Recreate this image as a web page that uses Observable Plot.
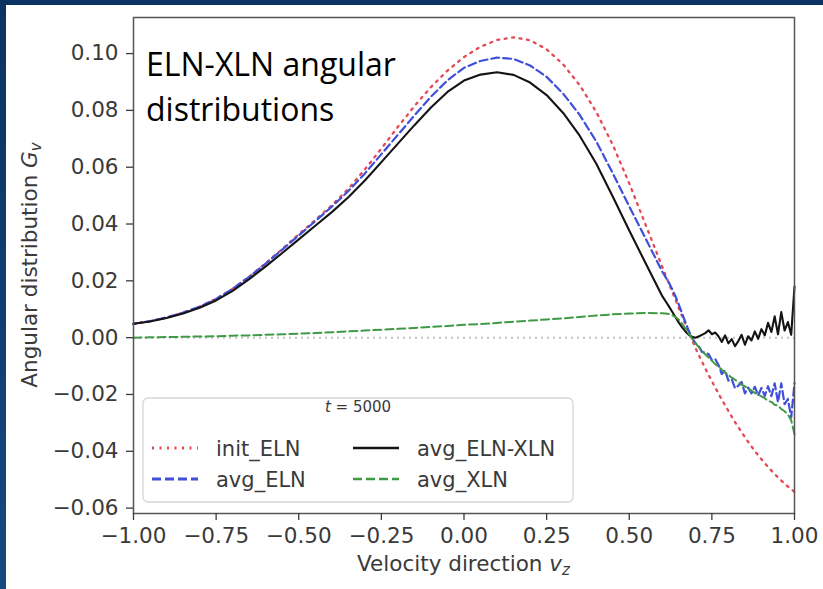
<!DOCTYPE html>
<html><head><meta charset="utf-8">
<script src="https://cdn.jsdelivr.net/npm/d3@7"></script>
<script src="https://cdn.jsdelivr.net/npm/@observablehq/plot@0.6"></script>
<style>
html,body{margin:0;padding:0;}
body{width:823px;height:589px;overflow:hidden;background:linear-gradient(#0c3262,#15497f);position:relative;}
#chart{position:absolute;left:6px;top:5px;width:817px;height:584px;background:#fff;}
</style></head><body><div id="chart"></div>
<script>
// velocity direction grid
const vz = [-1.00,-0.95,-0.90,-0.85,-0.80,-0.75,-0.70,-0.65,-0.60,-0.55,-0.50,-0.45,-0.40,-0.35,-0.30,-0.25,-0.20,-0.15,-0.10,-0.05,0.00,0.05,0.10,0.15,0.20,0.25,0.30,0.35,0.40,0.45,0.50,0.55,0.60,
0.61,0.62,0.63,0.64,0.65,0.66,0.67,0.68,0.69,0.70,0.71,0.72,0.73,0.74,0.75,0.76,0.77,0.78,0.79,0.80,0.81,0.82,0.83,0.84,0.85,0.86,0.87,0.88,0.89,0.90,0.91,0.92,0.93,0.94,0.95,0.96,0.97,0.98,0.99,1.00];

const initELN = [.0048,.0058,.0071,.0088,.0109,.0137,.0172,.0215,.0262,.0312,.0364,.0414,.0466,.0524,.0592,.0666,.0742,.0815,.0882,.0940,.0988,.1024,.1048,.1057,.1047,.1015,.0962,.0889,.0795,.0679,.0543,.0396,.0249,
.0220,.0191,.0162,.0133,.0104,.0075,.0047,.0019,-.0008,-.0035,-.0060,-.0084,-.0108,-.0131,-.0153,-.0175,-.0197,-.0218,-.0238,-.0258,-.0278,-.0297,-.0315,-.0333,-.0350,-.0367,-.0383,-.0399,-.0414,-.0428,-.0442,-.0455,-.0468,-.0480,-.0492,-.0503,-.0514,-.0524,-.0533,-.0543];

const avgELN = [.0049,.0058,.0071,.0088,.0109,.0136,.0172,.0214,.0261,.0310,.0360,.0410,.0461,.0516,.0578,.0646,.0714,.0782,.0848,.0906,.0950,.0974,.0986,.0981,.0958,.0918,.0859,.0784,.0691,.0579,.0462,.0348,.0232,
.0213,.0193,.0170,.0145,.0116,.0085,.0054,.0024,.0000,-.0019,-.0029,-.0050,-.0053,-.0058,-.0079,-.0075,-.0096,-.0128,-.0115,-.0151,-.0146,-.0178,-.0169,-.0156,-.0196,-.0176,-.0196,-.0173,-.0203,-.0177,-.0205,-.0171,-.0206,-.0161,-.0227,-.0161,-.0234,-.0216,-.0281,-.0160];

const avgELNXLN = [.0049,.0057,.0069,.0085,.0105,.0131,.0165,.0206,.0251,.0298,.0346,.0394,.0442,.0494,.0553,.0618,.0683,.0748,.0810,.0865,.0905,.0926,.0934,.0925,.0898,.0854,.0791,.0711,.0613,.0497,.0377,.0261,.0146,
.0128,.0110,.0091,.0072,.0053,.0036,.0022,.0010,.0003,.0000,.0004,.0010,.0016,.0026,.0012,.0018,.0005,-.0015,.0008,-.0020,-.0005,-.0030,-.0012,.0010,-.0025,.0005,-.0010,.0022,-.0004,.0030,.0008,.0052,.0020,.0075,.0012,.0090,.0025,.0055,.0010,.0180];

const avgXLN = [.0000,.0001,.0002,.0003,.0004,.0005,.0007,.0008,.0010,.0012,.0014,.0016,.0019,.0022,.0025,.0028,.0031,.0034,.0038,.0041,.0045,.0048,.0052,.0056,.0060,.0064,.0068,.0073,.0078,.0082,.0085,.0087,.0086,
.0085,.0083,.0079,.0073,.0063,.0049,.0032,.0014,-.0003,-.0019,-.0033,-.0046,-.0059,-.0070,-.0081,-.0093,-.0101,-.0113,-.0123,-.0131,-.0141,-.0148,-.0157,-.0166,-.0171,-.0181,-.0186,-.0195,-.0199,-.0207,-.0213,-.0223,-.0226,-.0236,-.0239,-.0251,-.0259,-.0271,-.0291,-.0340];

const xTicks = [-1.00,-0.75,-0.50,-0.25,0.00,0.25,0.50,0.75,1.00];
const yTicks = [-0.06,-0.04,-0.02,0.00,0.02,0.04,0.06,0.08,0.10];
const seriesNames = ["init_ELN","avg_ELN","avg_ELN-XLN","avg_XLN"];
const legendTitle = "5000";
const titleLines = ["ELN-XLN angular","distributions"];

const styles = {
  "init_ELN":    {stroke:"#e34a55", strokeWidth:2.3, dash:"2,5.5"},
  "avg_ELN":     {stroke:"#3f4fd8", strokeWidth:2.2, dash:"8,4"},
  "avg_ELN-XLN": {stroke:"#141414", strokeWidth:2.1, dash:null},
  "avg_XLN":     {stroke:"#3f9a45", strokeWidth:2.0, dash:"8,4"}
};

const rows = [];
[initELN, avgELN, avgELNXLN, avgXLN].forEach((arr,k)=>arr.forEach((g,i)=>rows.push({series:seriesNames[k], v:vz[i], g})));

const fmt = d3.format(".2f");
const W = 817, H = 584, mL = 127, mR = 29, mT = 12, mB = 76;

const lineMarks = seriesNames.map(s => Plot.line(rows, {
  filter: d => d.series === s, x: "v", y: "g",
  stroke: styles[s].stroke, strokeWidth: styles[s].strokeWidth,
  strokeDasharray: styles[s].dash, strokeLinejoin: "round"
}));

const chart = Plot.plot({
  width: W, height: H,
  marginLeft: mL, marginRight: mR, marginTop: mT, marginBottom: mB,
  style: {fontFamily: "DejaVu Sans", fontSize: "21.5px", color: "#3a3a3a", background: "#fff", overflow: "visible"},
  x: {domain: [-1, 1]},
  y: {domain: [-0.0619, 0.1127]},
  marks: [
    Plot.ruleY([0], {stroke: "#c4c4c4", strokeWidth: 2, strokeDasharray: "2,4"}),
    ...lineMarks,
    Plot.frame({stroke: "#555", strokeWidth: 1.5}),
    Plot.axisX(xTicks, {tickFormat: fmt, tickSize: 7, tickPadding: 7, label: null, strokeWidth: 1.3}),
    Plot.axisY(yTicks, {tickFormat: fmt, tickSize: 7, tickPadding: 8, label: null, strokeWidth: 1.3})
  ]
});
document.getElementById("chart").appendChild(chart);

const svg = d3.select(chart);
const fx0 = mL, fx1 = W - mR, fy0 = mT, fy1 = H - mB;

// axis labels
const xl = svg.append("text").attr("x", (fx0 + fx1) / 2).attr("y", 566)
  .attr("text-anchor", "middle").attr("fill", "#3a3a3a")
  .style("font-family", "DejaVu Sans").style("font-size", "21.5px");
xl.append("tspan").text("Velocity direction ");
xl.append("tspan").attr("font-style", "italic").text("v");
xl.append("tspan").attr("font-style", "italic").attr("font-size", "15px").attr("dy", 4).text("z");

const yl = svg.append("text").attr("transform", `translate(31,${(fy0 + fy1) / 2}) rotate(-90)`)
  .attr("text-anchor", "middle").attr("fill", "#3a3a3a")
  .style("font-family", "DejaVu Sans").style("font-size", "21.5px");
yl.append("tspan").text("Angular distribution ");
yl.append("tspan").attr("font-style", "italic").text("G");
yl.append("tspan").attr("font-style", "italic").attr("font-size", "15px").attr("dy", 4).text("v");

// overlay title
const tt = svg.append("text").attr("fill", "#000").attr("text-anchor", "start")
  .style("font-family", "'Open Sans'").style("font-size", "32px");
titleLines.forEach((t, i) => tt.append("tspan").attr("x", 140).attr("y", 71 + i * 45).text(t));

// legend
const lg = svg.append("g").attr("text-anchor", "start");
lg.append("rect").attr("x", 137).attr("y", 393).attr("width", 430).attr("height", 104).attr("rx", 5)
  .attr("fill", "#fff").attr("fill-opacity", 0.85).attr("stroke", "#d6d6d6").attr("stroke-width", 1.3);
const lt = lg.append("text").attr("x", 352).attr("y", 407).attr("text-anchor", "middle").attr("fill", "#3a3a3a")
  .style("font-family", "DejaVu Sans").style("font-size", "15px");
lt.append("tspan").attr("font-style", "italic").text("t");
lt.append("tspan").text(" = " + legendTitle);
const pos = [
  {s: "init_ELN", x: 146, y: 443},
  {s: "avg_ELN", x: 146, y: 474},
  {s: "avg_ELN-XLN", x: 347, y: 443},
  {s: "avg_XLN", x: 347, y: 474}
];
pos.forEach(p => {
  const st = styles[p.s];
  lg.append("line").attr("x1", p.x).attr("x2", p.x + 46).attr("y1", p.y).attr("y2", p.y)
    .attr("stroke", st.stroke).attr("stroke-width", st.strokeWidth + 0.6)
    .attr("stroke-dasharray", st.dash ? (p.s === "init_ELN" ? "2,5.5" : "9,4") : null);
  lg.append("text").attr("x", p.x + 64).attr("y", p.y + 7.5).attr("fill", "#3a3a3a").attr("text-anchor", "start")
    .style("font-family", "DejaVu Sans").style("font-size", "21px").text(p.s);
});
</script>
</body></html>
